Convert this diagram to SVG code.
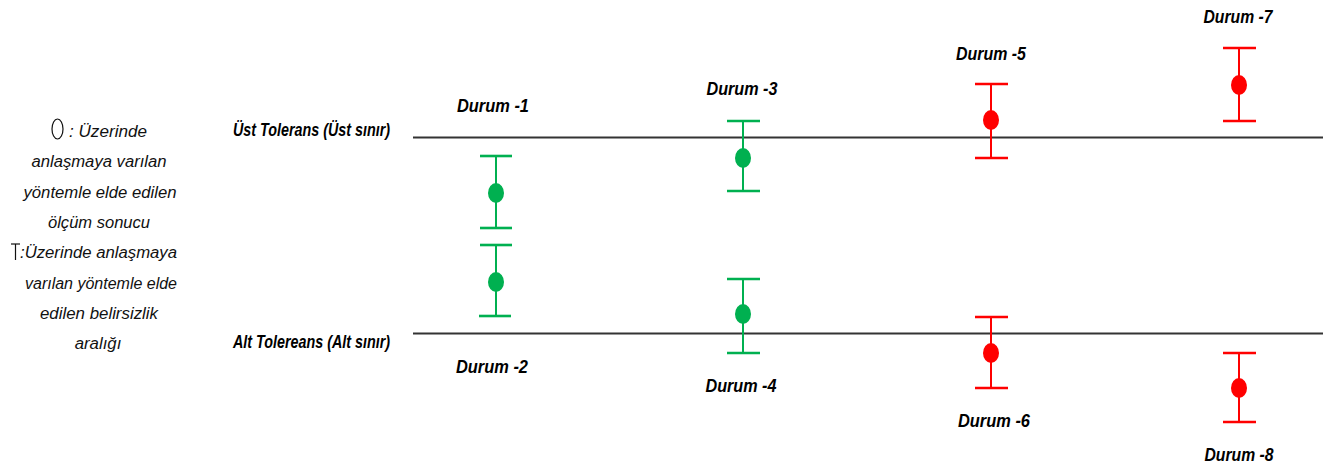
<svg xmlns="http://www.w3.org/2000/svg" width="1328" height="468" viewBox="0 0 1328 468">
<style>
.bg{fill:#ffffff}
.lbl{font-family:"Liberation Sans",Arial,sans-serif;font-size:19px;font-weight:bold;font-style:italic;fill:#000;text-anchor:middle}
.tol{font-family:"Liberation Sans",Arial,sans-serif;font-size:17.5px;font-weight:bold;font-style:italic;fill:#000}
.leg{font-family:"Liberation Sans",Arial,sans-serif;font-size:16.8px;font-style:italic;fill:#111;text-anchor:middle}
.legs{font-family:"Liberation Sans",Arial,sans-serif;font-size:16.8px;font-style:italic;fill:#111}
.ref{stroke:#333;stroke-width:2;fill:none}
.g line{stroke:#00b050}
.g ellipse{fill:#00b050}
.r line{stroke:#ff0000}
.r ellipse{fill:#ff0000}
.stem{stroke-width:2}
.cap{stroke-width:2.6}
</style>
<rect class="bg" x="0" y="0" width="1328" height="468"/>
<g id="legend">
<ellipse cx="57.5" cy="129" rx="5.5" ry="10" fill="none" stroke="#111" stroke-width="1.2"/>
<text class="legs" x="69" y="137" textLength="78" lengthAdjust="spacingAndGlyphs">: Üzerinde</text>
<text class="leg" x="99" y="167" textLength="135" lengthAdjust="spacingAndGlyphs">anlaşmaya varılan</text>
<text class="leg" x="100" y="198" textLength="153" lengthAdjust="spacingAndGlyphs">yöntemle elde edilen</text>
<text class="leg" x="99" y="228" textLength="102" lengthAdjust="spacingAndGlyphs">ölçüm sonucu</text>
<line x1="11" y1="244" x2="20" y2="244" stroke="#111" stroke-width="1.2"/>
<line x1="15.5" y1="244" x2="15.5" y2="260" stroke="#111" stroke-width="1.2"/>
<text class="legs" x="20" y="258" textLength="157" lengthAdjust="spacingAndGlyphs">:Üzerinde anlaşmaya</text>
<text class="leg" x="101" y="289" textLength="152" lengthAdjust="spacingAndGlyphs">varılan yöntemle elde</text>
<text class="leg" x="99" y="319" textLength="118" lengthAdjust="spacingAndGlyphs">edilen belirsizlik</text>
<text class="leg" x="98" y="349">aralığı</text>
</g>
<g id="connectors">
<line class="ref" x1="413" y1="137.5" x2="1323" y2="137.5"/>
<line class="ref" x1="413" y1="333.5" x2="1323" y2="333.5"/>
</g>
<g id="tolerance-labels">
<text class="tol" x="233" y="136" textLength="157" lengthAdjust="spacingAndGlyphs">Üst Tolerans (Üst sınır)</text>
<text class="tol" x="233" y="348" textLength="157" lengthAdjust="spacingAndGlyphs">Alt Tolereans (Alt sınır)</text>
</g>
<g id="durum1" class="g">
<line class="stem" x1="496" y1="156" x2="496" y2="228"/>
<line class="cap" x1="480" y1="156" x2="512" y2="156"/>
<line class="cap" x1="480" y1="228" x2="512" y2="228"/>
<ellipse cx="496" cy="193" rx="8" ry="10"/>
<text class="lbl" x="493" y="112" textLength="72" lengthAdjust="spacingAndGlyphs">Durum -1</text>
</g>
<g id="durum2" class="g">
<line class="stem" x1="496" y1="245" x2="496" y2="316"/>
<line class="cap" x1="480" y1="245" x2="512" y2="245"/>
<line class="cap" x1="479" y1="316" x2="511" y2="316"/>
<ellipse cx="496" cy="282" rx="8" ry="10"/>
<text class="lbl" x="492" y="373" textLength="72" lengthAdjust="spacingAndGlyphs">Durum -2</text>
</g>
<g id="durum3" class="g">
<line class="stem" x1="743" y1="121" x2="743" y2="191"/>
<line class="cap" x1="727" y1="121" x2="760" y2="121"/>
<line class="cap" x1="727" y1="191" x2="760" y2="191"/>
<ellipse cx="743" cy="158" rx="8" ry="10"/>
<text class="lbl" x="742" y="95" textLength="71" lengthAdjust="spacingAndGlyphs">Durum -3</text>
</g>
<g id="durum4" class="g">
<line class="stem" x1="743" y1="279" x2="743" y2="353"/>
<line class="cap" x1="727" y1="279" x2="760" y2="279"/>
<line class="cap" x1="727" y1="353" x2="760" y2="353"/>
<ellipse cx="743" cy="314" rx="8" ry="10"/>
<text class="lbl" x="741" y="392" textLength="71" lengthAdjust="spacingAndGlyphs">Durum -4</text>
</g>
<g id="durum5" class="r">
<line class="stem" x1="991" y1="84" x2="991" y2="158"/>
<line class="cap" x1="975" y1="84" x2="1008" y2="84"/>
<line class="cap" x1="975" y1="158" x2="1008" y2="158"/>
<ellipse cx="991" cy="120" rx="8" ry="10"/>
<text class="lbl" x="991" y="60" textLength="70" lengthAdjust="spacingAndGlyphs">Durum -5</text>
</g>
<g id="durum6" class="r">
<line class="stem" x1="991" y1="317" x2="991" y2="388"/>
<line class="cap" x1="975" y1="317" x2="1008" y2="317"/>
<line class="cap" x1="975" y1="388" x2="1008" y2="388"/>
<ellipse cx="991" cy="353" rx="8" ry="10"/>
<text class="lbl" x="994" y="427" textLength="72" lengthAdjust="spacingAndGlyphs">Durum -6</text>
</g>
<g id="durum7" class="r">
<line class="stem" x1="1239" y1="48" x2="1239" y2="121"/>
<line class="cap" x1="1223" y1="48" x2="1256" y2="48"/>
<line class="cap" x1="1223" y1="121" x2="1256" y2="121"/>
<ellipse cx="1239" cy="85" rx="8" ry="10"/>
<text class="lbl" x="1238" y="23" textLength="69" lengthAdjust="spacingAndGlyphs">Durum -7</text>
</g>
<g id="durum8" class="r">
<line class="stem" x1="1239" y1="353" x2="1239" y2="422"/>
<line class="cap" x1="1223" y1="353" x2="1256" y2="353"/>
<line class="cap" x1="1223" y1="422" x2="1256" y2="422"/>
<ellipse cx="1239" cy="388" rx="8" ry="10"/>
<text class="lbl" x="1239" y="461" textLength="69" lengthAdjust="spacingAndGlyphs">Durum -8</text>
</g>
</svg>
